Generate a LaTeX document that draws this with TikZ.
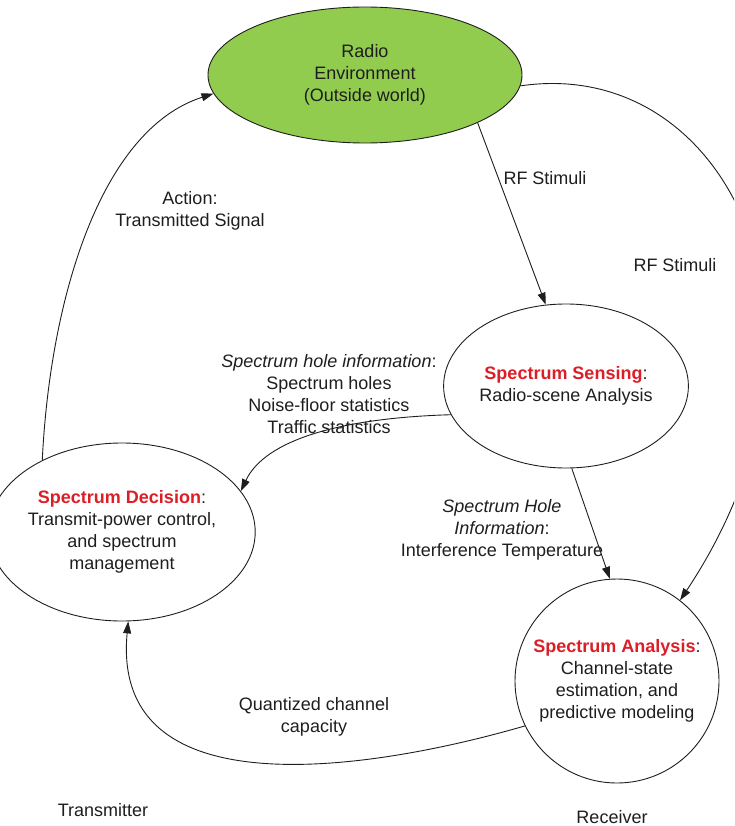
\documentclass[tikz,border=0pt]{standalone}
\usepackage{fontspec}
\setmainfont{Liberation Sans}
\usetikzlibrary{arrows.meta,shapes.geometric}
\definecolor{envgreen}{RGB}{146,204,78}
\definecolor{keyred}{RGB}{220,30,38}
\definecolor{ink}{RGB}{30,30,30}
\newcommand\keyterm[1]{\textcolor{keyred}{\textbf{#1}}}
\begin{document}
\begin{tikzpicture}[x=1pt,y=-1pt,
  txt/.style={font=\fontsize{18}{22}\selectfont, text=ink, align=center, inner sep=0pt},
  block/.style={ellipse, draw=ink, line width=0.9pt, inner sep=0pt, txt},
  link/.style={draw=ink, line width=0.9pt, -{Triangle[length=12pt,width=8pt]}},
]
\clip (0,0) rectangle (734,826);

% the four stages of the cognitive cycle
\node[block, fill=envgreen, minimum width=314pt, minimum height=136pt] (env) at (365,75)
  {Radio\\Environment\\(Outside world)};
\node[block, minimum width=226pt, minimum height=164pt] (sense) at (566,386)
  {\keyterm{Spectrum Sensing}:\\Radio-scene Analysis};
\node[block, minimum width=214pt, minimum height=178pt] (dec) at (122,532)
  {\keyterm{Spectrum Decision}:\\Transmit-power control,\\and spectrum\\management};
\node[block, circle, minimum size=204pt] (ana) at (617,681)
  {\keyterm{Spectrum Analysis}:\\Channel-state\\estimation, and\\predictive modeling};

% flows between the stages
\draw[link] (env.-23) -- (sense.104);
\draw[link] (env.-4) .. controls (730,55) and (860,330) .. (ana.52);
\draw[link] (sense.-86) -- (ana.94.5);
\draw[link] (sense.-166.6) .. controls (340,418) and (265,440) .. (dec.19.4);
\draw[link] (dec.138.7) .. controls (50,300) and (100,130) .. (env.-173.7);
\draw[link] (ana.-154.2) .. controls (380,768) and (110,815) .. (dec.-86.8);

% flow labels
\node[txt] (rf1) at (545,178) {RF Stimuli};
\node[txt] (rf2) at (675,265) {RF Stimuli};
\node[txt] (act) at (190,211) {Action:\\Transmitted Signal};
\node[txt] (holes) at (329,394) {\textit{Spectrum hole information}:\\Spectrum holes\\Noise-floor statistics\\Traffic statistics};
\node[txt] (temp) at (502,530) {\textit{Spectrum Hole}\\\textit{Information}:\\Interference Temperature};
\node[txt] (cap) at (314,717) {Quantized channel\\capacity};

% ends of the link
\node[txt] (tx) at (103,810) {Transmitter};
\node[txt] (rx) at (612,817) {Receiver};
\end{tikzpicture}
\end{document}
